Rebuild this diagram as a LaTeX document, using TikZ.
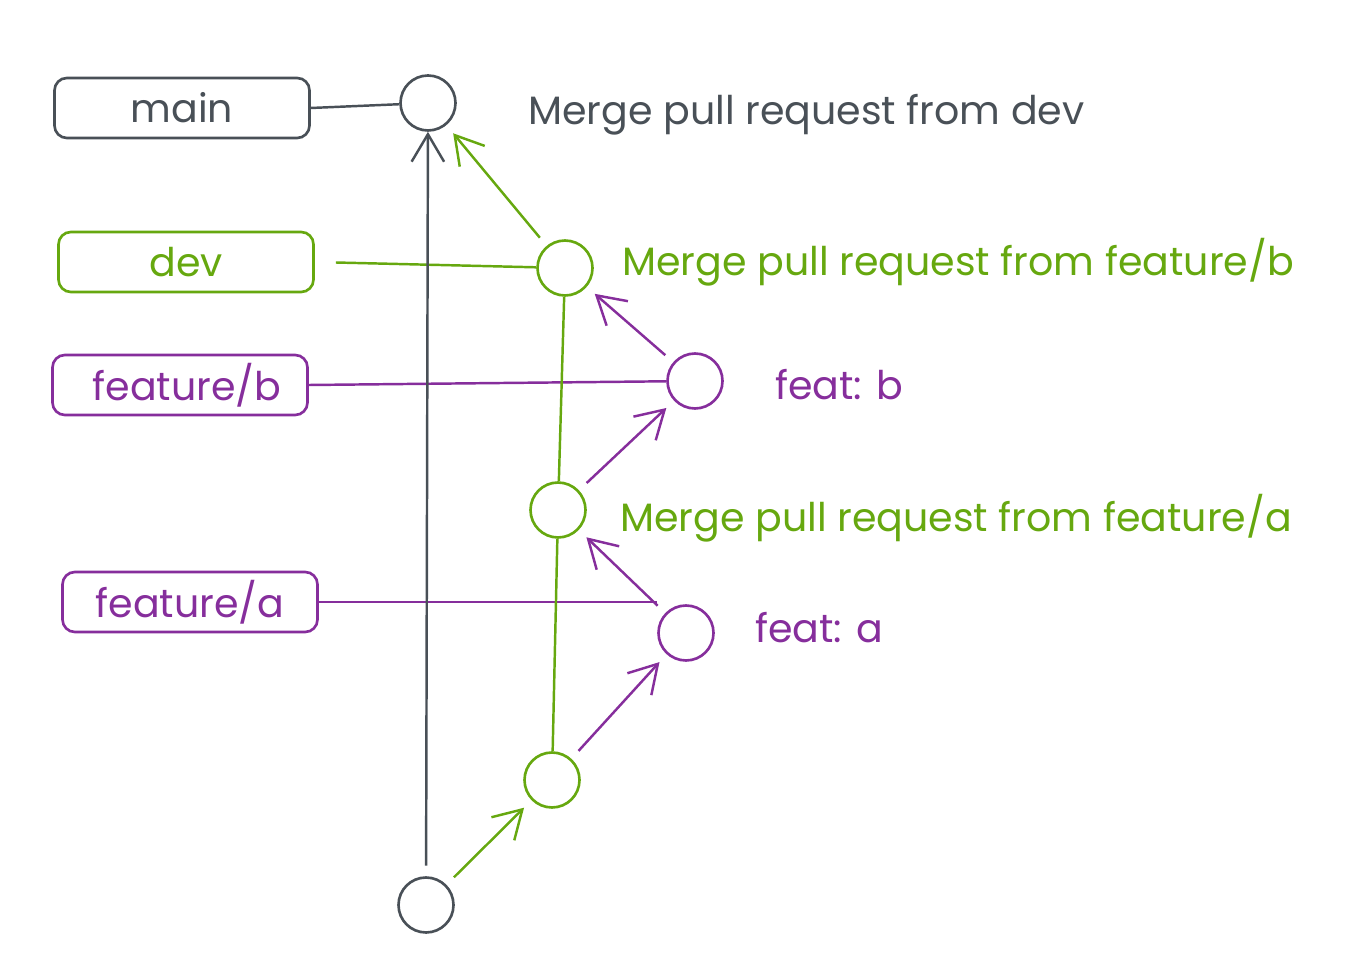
\documentclass[tikz,border=0pt]{standalone}
\usepackage{fontspec}
\setmainfont{Poppins}
\usetikzlibrary{positioning, arrows.meta}
\definecolor{Slate}{HTML}{495057}
\definecolor{Lime}{HTML}{66A80F}
\definecolor{Grape}{HTML}{862E9C}
\tikzset{
    commit/.style={circle, draw, line width=1.5pt, minimum size=1.1cm, inner sep=0pt},
    branch/.style={rectangle, rounded corners=7pt, draw, line width=1.5pt, minimum width=5.1cm, minimum height=1.2cm, font=\fontsize{22.5}{26}\selectfont},
    msg/.style={anchor=west, inner sep=0pt, font=\fontsize{22.5}{26}\selectfont},
    link/.style={line width=1.4pt},
    parent/.style={-{Straight Barb[length=5.5mm, width=6.5mm]}, line width=1.4pt, shorten >=6pt, shorten <=6pt},
}
\begin{document}
\begin{tikzpicture}[x=0.02cm, y=-0.02cm]
    \useasboundingbox (0,0) rectangle (1368,972);

    % commits
    \node[commit, draw=Slate] (root) at (426,905) {};
    \node[commit, draw=Lime]  (c1)   at (552,780) {};
    \node[commit, draw=Grape] (fa)   at (686,633) {};
    \node[commit, draw=Lime]  (m1)   at (558,510) {};
    \node[commit, draw=Grape] (fb)   at (695,381) {};
    \node[commit, draw=Lime]  (m2)   at (565,268) {};
    \node[commit, draw=Slate] (top)  at (428,103) {};

    % branch labels
    \node[branch, draw=Slate, text=Slate] (main)  at (182,108) {main};
    \node[branch, draw=Lime,  text=Lime]  (dev)   at (186,262) {dev};
    \node[branch, draw=Grape, text=Grape] (featb) at (180,385) {\hspace{8pt}feature/b};
    \node[branch, draw=Grape, text=Grape] (feata) at (190,602) {feature/a};

    % commit messages
    \node[msg, text=Slate] (msgtop) at (528,115) {Merge pull request from dev};
    \node[msg, text=Lime]  (msgm2)  at (622,262) {Merge pull request from feature/b};
    \node[msg, text=Grape] (msgfb)  at (775,385) {feat: b};
    \node[msg, text=Lime]  (msgm1)  at (620,518) {Merge pull request from feature/a};
    \node[msg, text=Grape] (msgfa)  at (755,628) {feat: a};

    % branch pointers
    \draw[link, Slate] (main.east) -- (top);
    \draw[link, Lime, shorten <=12pt] (dev.east) -- (m2);
    \draw[link, Grape] (featb.east) -- (fb);
    \draw[link, Grape] (feata.east) -- (feata.east -| fa.west);

    % history
    \draw[parent, Slate, shorten >=0pt] (root) -- (top);
    \draw[parent, Lime]  (root) -- (c1);
    \draw[parent, Grape] (c1) -- (fa);
    \draw[parent, Grape] (fa) -- (m1);
    \draw[parent, Grape] (m1) -- (fb);
    \draw[parent, Grape] (fb) -- (m2);
    \draw[parent, Lime]  (m2) -- (top);
    \draw[link, Lime] (c1) -- (m1);
    \draw[link, Lime] (m1) -- (m2);
\end{tikzpicture}
\end{document}
